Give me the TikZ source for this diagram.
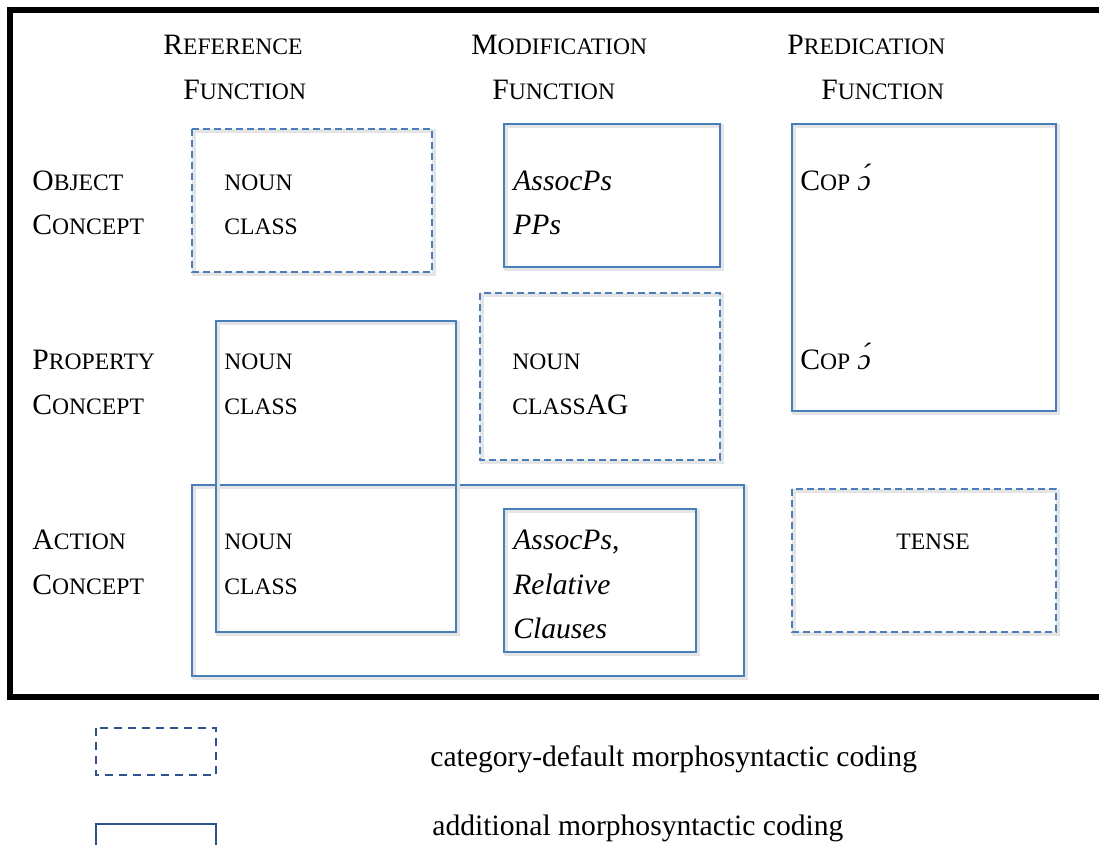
\documentclass[tikz,border=0pt]{standalone}
\usepackage{fontspec}
\setmainfont{Liberation Serif}
\usepackage{tikz}

% fake small caps as in the word processor original
\newcommand{\smc}[1]{{\fontsize{11.8}{14}\selectfont\MakeUppercase{#1}}}

\definecolor{boxblue}{HTML}{4A7EBB}
\definecolor{keyblue}{HTML}{2F528F}

\begin{document}
\begin{tikzpicture}[x=0.5pt,y=-0.5pt,
    txt/.style={anchor=base west,inner sep=0pt,font=\fontsize{14.8}{18}\selectfont},
    solidbox/.style={draw=boxblue,line width=1pt},
    dashbox/.style={draw=boxblue,line width=1pt,dash pattern=on 3.5pt off 2pt},
    shadowline/.style={draw=black!10,line width=2pt}]
    \useasboundingbox (0,0) rectangle (1099,845);
    \clip (0,0) rectangle (1099,845);
    \draw[line width=2.6pt] (10,10) rectangle (1120,697);

    % column heads
    \node[txt] (refA) at (163,55) {R\smc{eference}};
    \node[txt] (refB) at (183,100) {F\smc{unction}};
    \node[txt] (modA) at (471,55) {M\smc{odification}};
    \node[txt] (modB) at (492,100) {F\smc{unction}};
    \node[txt] (preA) at (787,55) {P\smc{redication}};
    \node[txt] (preB) at (821,100) {F\smc{unction}};

    % row heads
    \node[txt] (objA) at (32,191) {O\smc{bject}};
    \node[txt] (objB) at (32,235) {C\smc{oncept}};
    \node[txt] (proA) at (32,370) {P\smc{roperty}};
    \node[txt] (proB) at (32,415) {C\smc{oncept}};
    \node[txt] (actA) at (32,550) {A\smc{ction}};
    \node[txt] (actB) at (32,594) {C\smc{oncept}};

    % boxes: x1/y1/x2/y2/style
    \foreach \xa/\ya/\xb/\yb/\s in {192/129/432/272/dashbox, 504/124/720/267/solidbox,
        792/124/1056/411/solidbox, 480/293/720/460/dashbox, 792/489/1056/632/dashbox,
        192/485/744/676/solidbox, 216/321/456/632/solidbox, 504/509/696/652/solidbox}
    {
        \draw[shadowline] (\xa+2,\ya+2) rectangle (\xb+2,\yb+2);
        \draw[\s] (\xa,\ya) rectangle (\xb,\yb);
    }

    % cells
    \node[txt] (objRa) at (224,191) {\smc{noun}};
    \node[txt] (objRb) at (224,235) {\smc{class}};
    \node[txt] (objMa) at (513,191) {\textit{AssocPs}};
    \node[txt] (objMb) at (513,235) {\textit{PPs}};
    \node[txt] (objP) at (800,191) {C\smc{op} \textit{ɔ́}};
    \node[txt] (proRa) at (224,370) {\smc{noun}};
    \node[txt] (proRb) at (224,415) {\smc{class}};
    \node[txt] (proMa) at (512,370) {\smc{noun}};
    \node[txt] (proMb) at (512,415) {\smc{class}AG};
    \node[txt] (proP) at (800,370) {C\smc{op} \textit{ɔ́}};
    \node[txt] (actRa) at (224,550) {\smc{noun}};
    \node[txt] (actRb) at (224,594) {\smc{class}};
    \node[txt] (actMa) at (513,550) {\textit{AssocPs},};
    \node[txt] (actMb) at (513,594) {\textit{Relative}};
    \node[txt] (actMc) at (513,639) {\textit{Clauses}};
    \node[txt] (actP) at (896,550) {\smc{tense}};

    % key
    \draw[draw=keyblue,line width=1pt,dash pattern=on 4pt off 3pt] (96,728) rectangle (216,775);
    \draw[draw=keyblue,line width=1pt] (96,824) rectangle (216,880);
    \node[txt] (keyA) at (430,766) {category-default morphosyntactic coding};
    \node[txt] (keyB) at (432,835) {additional morphosyntactic coding};
\end{tikzpicture}
\end{document}
